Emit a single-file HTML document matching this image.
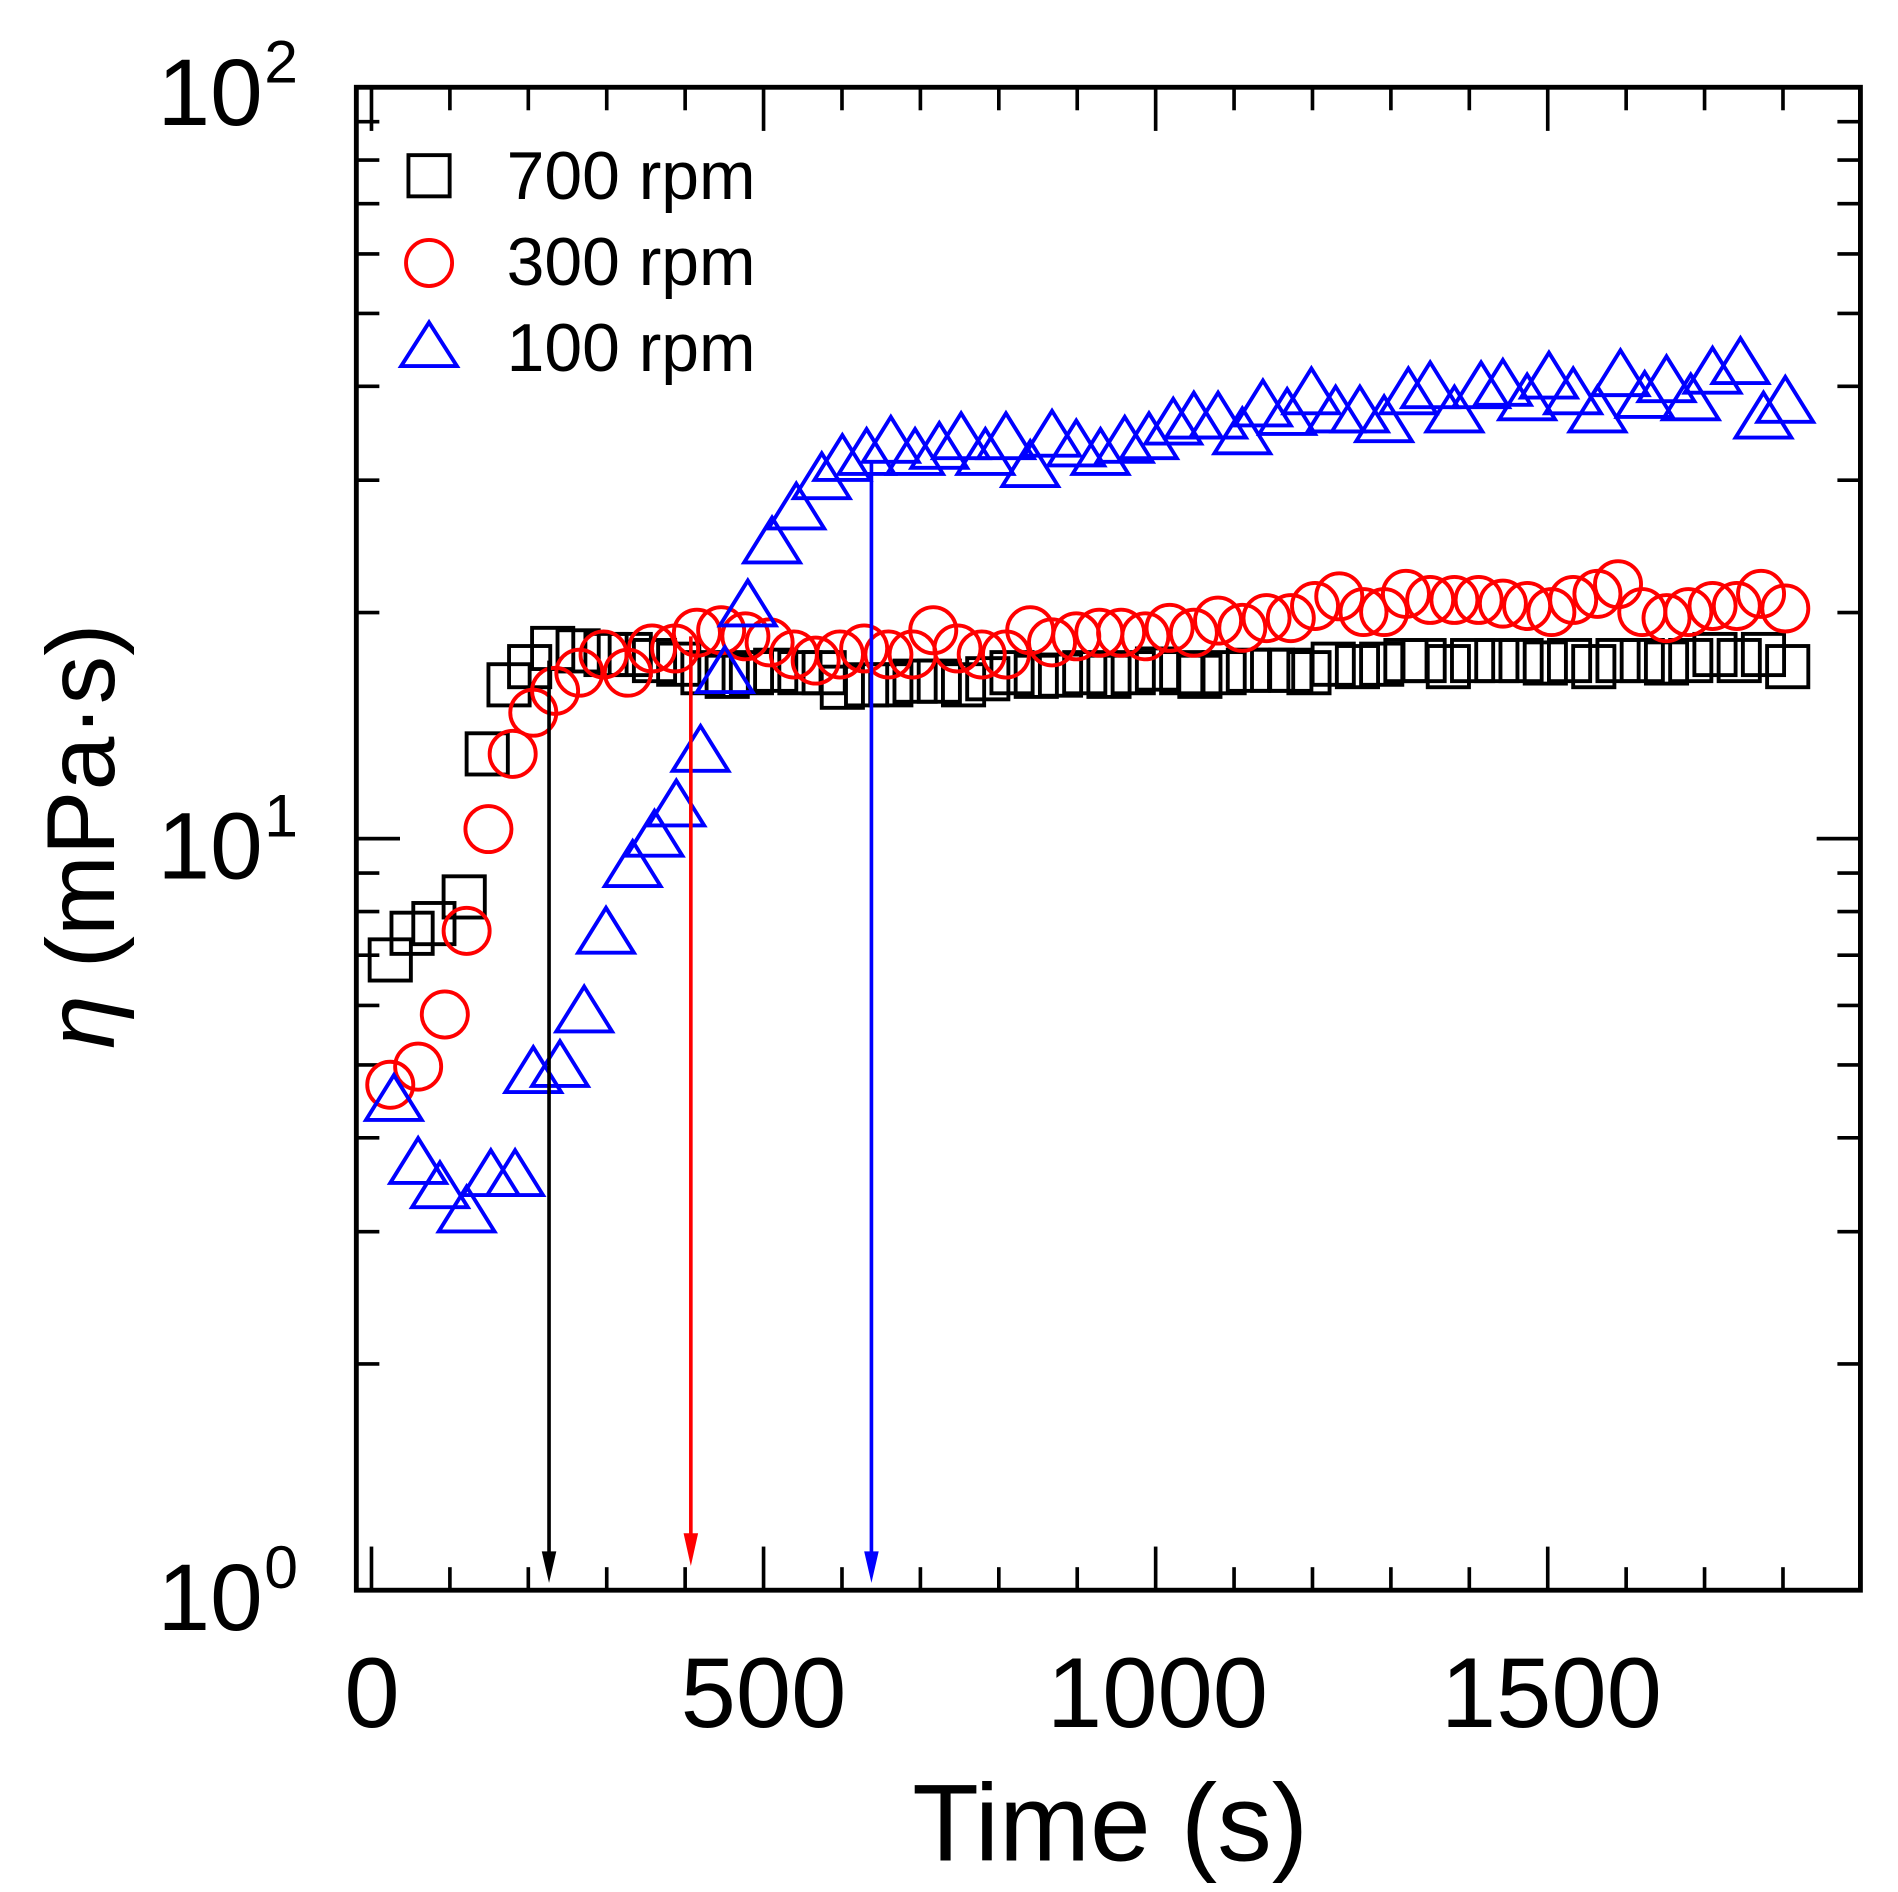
<!DOCTYPE html>
<html><head><meta charset="utf-8"><style>
html,body{margin:0;padding:0;background:#fff;width:1898px;height:1892px;overflow:hidden}
svg{display:block}
text{font-family:"Liberation Sans",Arial,sans-serif;fill:#000}
</style></head><body>
<svg id="s" width="1898" height="1892" viewBox="0 0 1566 1561" preserveAspectRatio="none" xmlns="http://www.w3.org/2000/svg">
<g id="ticks" stroke="#000" stroke-width="3"></g>
<rect x="294" y="72" width="1241" height="1240" fill="none" stroke="#000" stroke-width="4"/>
<g id="data" fill="none" stroke-width="3.2"></g>
<line x1="453" y1="545" x2="453" y2="1285" stroke="#000" stroke-width="3"/>
<polygon points="447,1280 459,1280 453,1306" fill="#000"/>
<line x1="570" y1="525" x2="570" y2="1270" stroke="#f00" stroke-width="3"/>
<polygon points="564,1265 576,1265 570,1292" fill="#f00"/>
<line x1="719" y1="380" x2="719" y2="1285" stroke="#00f" stroke-width="3"/>
<polygon points="713,1280 725,1280 719,1306" fill="#00f"/>
<rect x="337" y="128" width="34" height="34" fill="none" stroke="#000" stroke-width="3.2"/>
<circle cx="354" cy="217" r="19" fill="none" stroke="#f00" stroke-width="3.2"/>
<polygon points="354,266 377,302 331,302" fill="none" stroke="#00f" stroke-width="3.2"/>
<text x="418" y="164" font-size="56">700 rpm</text>
<text x="418" y="235" font-size="56">300 rpm</text>
<text x="418" y="306" font-size="56">100 rpm</text>
<text x="130" y="103" font-size="78">10</text><text x="218" y="68" font-size="50">2</text>
<text x="130" y="725" font-size="78">10</text><text x="218" y="690" font-size="50">1</text>
<text x="130" y="1345" font-size="78">10</text><text x="218" y="1310" font-size="50">0</text>
<text x="307" y="1425" font-size="82" text-anchor="middle">0</text>
<text x="630" y="1425" font-size="82" text-anchor="middle">500</text>
<text x="955" y="1425" font-size="82" text-anchor="middle">1000</text>
<text x="1280" y="1425" font-size="82" text-anchor="middle">1500</text>
<text x="916" y="1535" font-size="90" text-anchor="middle">Time (s)</text>
<text transform="translate(94,690) rotate(-90)" font-size="80" text-anchor="middle"><tspan font-style="italic">η</tspan> (mPa·s)</text>
</svg>
<script>
var NS="http://www.w3.org/2000/svg",T=document.getElementById('ticks'),D=document.getElementById('data');
function L(x1,y1,x2,y2){var l=document.createElementNS(NS,'line');l.setAttribute('x1',x1);l.setAttribute('y1',y1);l.setAttribute('x2',x2);l.setAttribute('y2',y2);T.appendChild(l);}
for(var t=0;t<=1900;t+=100){var x=306.5+t*0.647;if(x>1533)break;var len=(t%500==0)?36:19;L(x,1312,x,1312-len);L(x,72,x,72+len);}
for(var d=0;d<2;d++){for(var m=1;m<=10;m++){var y=1312-620*d-620*Math.log10(m);var len=(m==1||m==10)?36:19;L(294,y,294+len,y);L(1535,y,1535-len,y);}}
var sq=[[322,792],[340,770],[358,762],[383,740],[402,622],[420,565],[437,550],[456,535],[477,537],[500,540],[520,540],[540,545],[560,548],[580,555],[600,558],[620,555],[640,553],[660,555],[680,555],[695,567],[715,565],[735,565],[755,562],[775,562],[795,565],[815,560],[835,555],[855,558],[875,557],[895,555],[915,558],[935,555],[955,552],[975,555],[990,558],[1010,555],[1030,553],[1050,553],[1065,553],[1080,555],[1100,548],[1120,550],[1140,548],[1160,545],[1175,545],[1195,550],[1215,545],[1235,545],[1255,545],[1275,547],[1295,545],[1315,550],[1335,545],[1355,545],[1375,547],[1395,545],[1415,540],[1435,545],[1455,540],[1475,550]];
var ci=[[322,895],[345,880],[367,837],[385,768],[403,684],[423,622],[440,588],[458,570],[478,555],[498,540],[518,555],[538,535],[557,535],[575,522],[595,520],[615,525],[635,530],[655,540],[673,545],[693,540],[713,535],[733,540],[753,540],[770,520],[790,535],[810,540],[830,540],[850,520],[868,530],[888,525],[907,522],[925,522],[945,525],[965,518],[985,522],[1005,512],[1025,518],[1045,510],[1065,510],[1085,500],[1105,492],[1125,505],[1142,505],[1160,490],[1180,495],[1200,495],[1220,495],[1240,498],[1260,500],[1280,505],[1298,495],[1318,490],[1335,482],[1355,505],[1375,510],[1393,505],[1413,500],[1433,500],[1453,490],[1473,502]];
var tr=[[325,908],[345,960],[363,980],[385,1000],[405,970],[425,970],[440,885],[462,880],[482,835],[500,770],[522,715],[540,690],[558,665],[578,620],[598,555],[617,500],[637,448],[657,420],[678,395],[695,380],[715,375],[735,365],[755,375],[775,370],[793,362],[813,375],[830,362],[850,385],[868,360],[888,368],[908,375],[928,365],[948,362],[968,350],[985,345],[1005,345],[1025,358],[1042,335],[1062,342],[1082,325],[1102,340],[1122,340],[1142,348],[1162,325],[1180,320],[1200,340],[1222,320],[1240,318],[1260,330],[1278,312],[1298,325],[1318,340],[1337,310],[1357,328],[1375,315],[1395,330],[1413,308],[1436,300],[1455,345],[1473,332]];
var h='';
sq.forEach(function(p){h+='<rect x="'+(p[0]-17)+'" y="'+(p[1]-17)+'" width="34" height="34" stroke="#000"/>';});
ci.forEach(function(p){h+='<circle cx="'+p[0]+'" cy="'+p[1]+'" r="19" stroke="#f00"/>';});
tr.forEach(function(p){var x=p[0],y=p[1];h+='<polygon points="'+x+','+(y-21)+' '+(x+23)+','+(y+16)+' '+(x-23)+','+(y+16)+'" stroke="#00f"/>';});
D.innerHTML=h;
</script>
</body></html>
